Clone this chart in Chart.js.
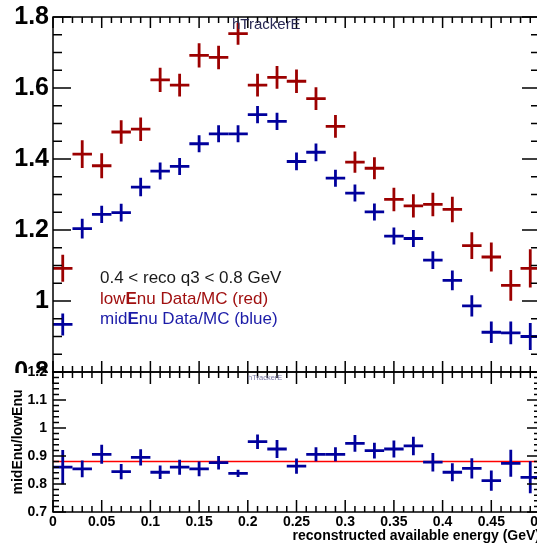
<!DOCTYPE html>
<html>
<head>
<meta charset="utf-8">
<script src="https://cdn.jsdelivr.net/npm/chart.js@4.4.1/dist/chart.umd.min.js"></script>
<style>
html, body { margin:0; padding:0; background:#fff; overflow:hidden; width:537px; height:543px; }
#topWrap { position:absolute; left:0; top:0; width:560px; height:373px; }
#botWrap { position:absolute; left:0; top:360px; width:560px; height:183px; }
</style>
</head>
<body>
<div id="topWrap"><canvas id="topChart" width="560" height="373"></canvas></div>
<div id="botWrap"><canvas id="botChart" width="560" height="183"></canvas></div>
<script>
// bins of reconstructed available energy (GeV)
var binCenters = [0.01,0.03,0.05,0.07,0.09,0.11,0.13,0.15,0.17,0.19,0.21,0.23,0.25,0.27,0.29,0.31,0.33,0.35,0.37,0.39,0.41,0.43,0.45,0.47,0.49]
var binHalfWidth = 0.01

var lowEnu    = [1.092,1.414,1.381,1.476,1.484,1.623,1.608,1.692,1.686,1.753,1.608,1.630,1.619,1.570,1.492,1.391,1.374,1.286,1.268,1.272,1.258,1.156,1.124,1.044,1.092]
var lowEnuErr = [0.038,0.039,0.035,0.033,0.033,0.034,0.032,0.034,0.033,0.031,0.032,0.032,0.033,0.032,0.032,0.030,0.031,0.033,0.033,0.033,0.036,0.038,0.041,0.043,0.054]
var midEnu    = [0.934,1.204,1.244,1.249,1.321,1.366,1.379,1.443,1.471,1.471,1.525,1.506,1.393,1.419,1.346,1.304,1.251,1.183,1.176,1.115,1.058,0.986,0.912,0.910,0.900]
var midEnuErr = [0.031,0.028,0.024,0.025,0.026,0.024,0.024,0.024,0.024,0.024,0.024,0.024,0.025,0.025,0.024,0.024,0.024,0.024,0.024,0.025,0.028,0.030,0.030,0.032,0.038]
var ratio     = [0.860,0.854,0.906,0.844,0.895,0.842,0.860,0.854,0.876,0.838,0.951,0.925,0.864,0.906,0.906,0.945,0.919,0.925,0.936,0.878,0.842,0.856,0.812,0.874,0.824]
var ratioErr  = [0.061,0.030,0.034,0.027,0.029,0.024,0.027,0.026,0.024,0.013,0.026,0.032,0.027,0.025,0.025,0.030,0.028,0.030,0.033,0.033,0.032,0.036,0.036,0.048,0.057]
var ratioFit = 0.88

var xTicks = [0,0.05,0.1,0.15,0.2,0.25,0.3,0.35,0.4,0.45,0.5]
var topYTicks = [0.8,1,1.2,1.4,1.6,1.8]
var botYTicks = [0.7,0.8,0.9,1,1.1,1.2]

var histTitle = 'hTrackerE'
var xTitle = 'reconstructed available energy (GeV)'
var ratioTitle = 'midEnu/lowEnu'

var RED = '#9c0000'
var BLUE = '#00009c'
var FONT = "'Liberation Sans', Arial, Helvetica, sans-serif"

Chart.defaults.font.family = FONT
Chart.defaults.color = '#000'

function toPoints(vals) {
    return vals.map(function(v, i){ return {x: binCenters[i], y: v} })
}

// error crosses (+ optional flat fit line), drawn with the chart's scales
var errCross = {
    id: 'errCross',
    afterDatasetsDraw: function(chart, args, opts) {
        var ctx = chart.ctx, xs = chart.scales.x, ys = chart.scales.y
        ctx.save()
        if (opts.fitLine != null) {
            var fy = ys.getPixelForValue(opts.fitLine)
            ctx.strokeStyle = '#ff0000'
            ctx.lineWidth = 1.5
            ctx.beginPath()
            ctx.moveTo(xs.getPixelForValue(xs.min), fy)
            ctx.lineTo(xs.getPixelForValue(xs.max), fy)
            ctx.stroke()
        }
        chart.data.datasets.forEach(function(ds){
            ctx.strokeStyle = ds.borderColor
            ctx.lineWidth = 2.8
            ds.data.forEach(function(p, i){
                var px = xs.getPixelForValue(p.x), py = ys.getPixelForValue(p.y)
                ctx.beginPath()
                ctx.moveTo(xs.getPixelForValue(p.x - binHalfWidth), py)
                ctx.lineTo(xs.getPixelForValue(p.x + binHalfWidth), py)
                ctx.moveTo(px, ys.getPixelForValue(p.y - ds.yErr[i]))
                ctx.lineTo(px, ys.getPixelForValue(p.y + ds.yErr[i]))
                ctx.stroke()
            })
        })
        ctx.restore()
    }
}

// ROOT style frame with inward ticks on all four sides
var rootFrame = {
    id: 'rootFrame',
    afterDraw: function(chart, args, o) {
        var ctx = chart.ctx, a = chart.chartArea, xs = chart.scales.x, ys = chart.scales.y
        ctx.save()
        ctx.strokeStyle = '#000'
        ctx.lineWidth = 1.5
        ctx.strokeRect(a.left, a.top, a.right - a.left, a.bottom - a.top)
        ctx.beginPath()
        var n, k, v, p, len
        n = Math.round((xs.max - xs.min) / o.xMinor)
        for (k = 0; k <= n; k++) {
            v = xs.min + k * o.xMinor
            p = xs.getPixelForValue(v)
            len = Math.abs(v / o.xMajor - Math.round(v / o.xMajor)) < 1e-6 ? o.xLen[0] : o.xLen[1]
            ctx.moveTo(p, a.bottom); ctx.lineTo(p, a.bottom - len)
            ctx.moveTo(p, a.top); ctx.lineTo(p, a.top + len)
        }
        n = Math.round((ys.max - ys.min) / o.yMinor)
        for (k = 0; k <= n; k++) {
            v = ys.min + k * o.yMinor
            p = ys.getPixelForValue(v)
            len = Math.abs(v / o.yMajor - Math.round(v / o.yMajor)) < 1e-6 ? o.yLen[0] : o.yLen[1]
            ctx.moveTo(a.left, p); ctx.lineTo(a.left + len, p)
            ctx.moveTo(a.right, p); ctx.lineTo(a.right - len, p)
        }
        ctx.stroke()
        ctx.restore()
    }
}

function drawParts(ctx, parts, x, y, size, color) {
    ctx.fillStyle = color
    parts.forEach(function(pt){
        ctx.font = (pt[1] ? 'bold ' : '') + size + 'px ' + FONT
        ctx.fillText(pt[0], x, y)
        x += ctx.measureText(pt[0]).width
    })
}

var topText = {
    id: 'topText',
    afterDraw: function(chart) {
        var ctx = chart.ctx
        ctx.save()
        ctx.textBaseline = 'alphabetic'
        ctx.textAlign = 'left'
        ctx.fillStyle = '#2a2a55'
        ctx.font = '15px ' + FONT
        ctx.fillText(histTitle, 232, 29)
        drawParts(ctx, [['0.4 < reco q3 < 0.8 GeV', false]], 100, 283, 17, '#1a1a1a')
        drawParts(ctx, [['low', false], ['E', true], ['nu Data/MC (red)', false]], 100, 303.5, 17, '#a01010')
        drawParts(ctx, [['mid', false], ['E', true], ['nu Data/MC (blue)', false]], 100, 324, 17, '#1c1ca8')
        ctx.restore()
    }
}

var botText = {
    id: 'botText',
    afterDraw: function(chart) {
        var ctx = chart.ctx
        ctx.save()
        ctx.fillStyle = '#7a7aa8'
        ctx.font = '7.5px ' + FONT
        ctx.textBaseline = 'alphabetic'
        ctx.fillText(histTitle, 248, 20)
        ctx.restore()
    }
}

function fmt(v) { return String(Math.round(v * 100) / 100) }

var topChart = new Chart(document.getElementById('topChart').getContext('2d'), {
    type: 'scatter',
    data: {
        datasets: [
            { label: 'lowEnu Data/MC', data: toPoints(lowEnu), yErr: lowEnuErr, borderColor: RED, backgroundColor: RED, pointRadius: 0 },
            { label: 'midEnu Data/MC', data: toPoints(midEnu), yErr: midEnuErr, borderColor: BLUE, backgroundColor: BLUE, pointRadius: 0 }
        ]
    },
    options: {
        responsive: false,
        animation: false,
        events: [],
        layout: { padding: { top: 17, right: 20, bottom: 1, left: 0 } },
        plugins: {
            legend: { display: false },
            tooltip: { enabled: false },
            errCross: {},
            rootFrame: { xMinor: 0.01, xMajor: 0.05, yMinor: 0.05, yMajor: 0.2, xLen: [11, 6], yLen: [18, 9] }
        },
        scales: {
            x: { type: 'linear', min: 0, max: 0.5, display: false },
            y: {
                type: 'linear', min: 0.8, max: 1.8,
                afterBuildTicks: function(s){ s.ticks = topYTicks.map(function(v){ return {value: v} }) },
                afterFit: function(s){ s.width = 53; s.paddingTop = 0; s.paddingBottom = 0 },
                grid: { display: false, drawTicks: false },
                border: { display: false },
                ticks: { padding: 4, color: '#000', font: { size: 25, weight: 'bold' }, callback: fmt }
            }
        }
    },
    plugins: [errCross, rootFrame, topText]
})

var botChart = new Chart(document.getElementById('botChart').getContext('2d'), {
    type: 'scatter',
    data: {
        datasets: [
            { label: 'midEnu/lowEnu', data: toPoints(ratio), yErr: ratioErr, borderColor: BLUE, backgroundColor: BLUE, pointRadius: 0 }
        ]
    },
    options: {
        responsive: false,
        animation: false,
        events: [],
        layout: { padding: { top: 12, right: 20, bottom: 0, left: 0 } },
        plugins: {
            legend: { display: false },
            tooltip: { enabled: false },
            errCross: { fitLine: ratioFit },
            rootFrame: { xMinor: 0.01, xMajor: 0.05, yMinor: 0.02, yMajor: 0.1, xLen: [12, 6], yLen: [13, 6] }
        },
        scales: {
            x: {
                type: 'linear', min: 0, max: 0.5,
                afterBuildTicks: function(s){ s.ticks = xTicks.map(function(v){ return {value: v} }) },
                afterFit: function(s){ s.height = 31; s.paddingLeft = 0; s.paddingRight = 0 },
                grid: { display: false, drawTicks: false },
                border: { display: false },
                ticks: { padding: 2, color: '#000', maxRotation: 0, autoSkip: false, font: { size: 14, weight: 'bold' }, callback: fmt },
                title: { display: true, text: xTitle, align: 'end', color: '#000', padding: { top: 0, bottom: 0 }, font: { size: 14, weight: 'bold', lineHeight: 1 } }
            },
            y: {
                type: 'linear', min: 0.7, max: 1.2,
                afterBuildTicks: function(s){ s.ticks = botYTicks.map(function(v){ return {value: v} }) },
                afterFit: function(s){ s.width = 53; s.paddingTop = 0; s.paddingBottom = 0 },
                grid: { display: false, drawTicks: false },
                border: { display: false },
                ticks: { padding: 6, color: '#000', font: { size: 14, weight: 'bold' }, callback: fmt },
                title: { display: true, text: ratioTitle, color: '#000', padding: { top: 10, bottom: 0 }, font: { size: 14, weight: 'bold' } }
            }
        }
    },
    plugins: [errCross, rootFrame, botText]
})
</script>
</body>
</html>
